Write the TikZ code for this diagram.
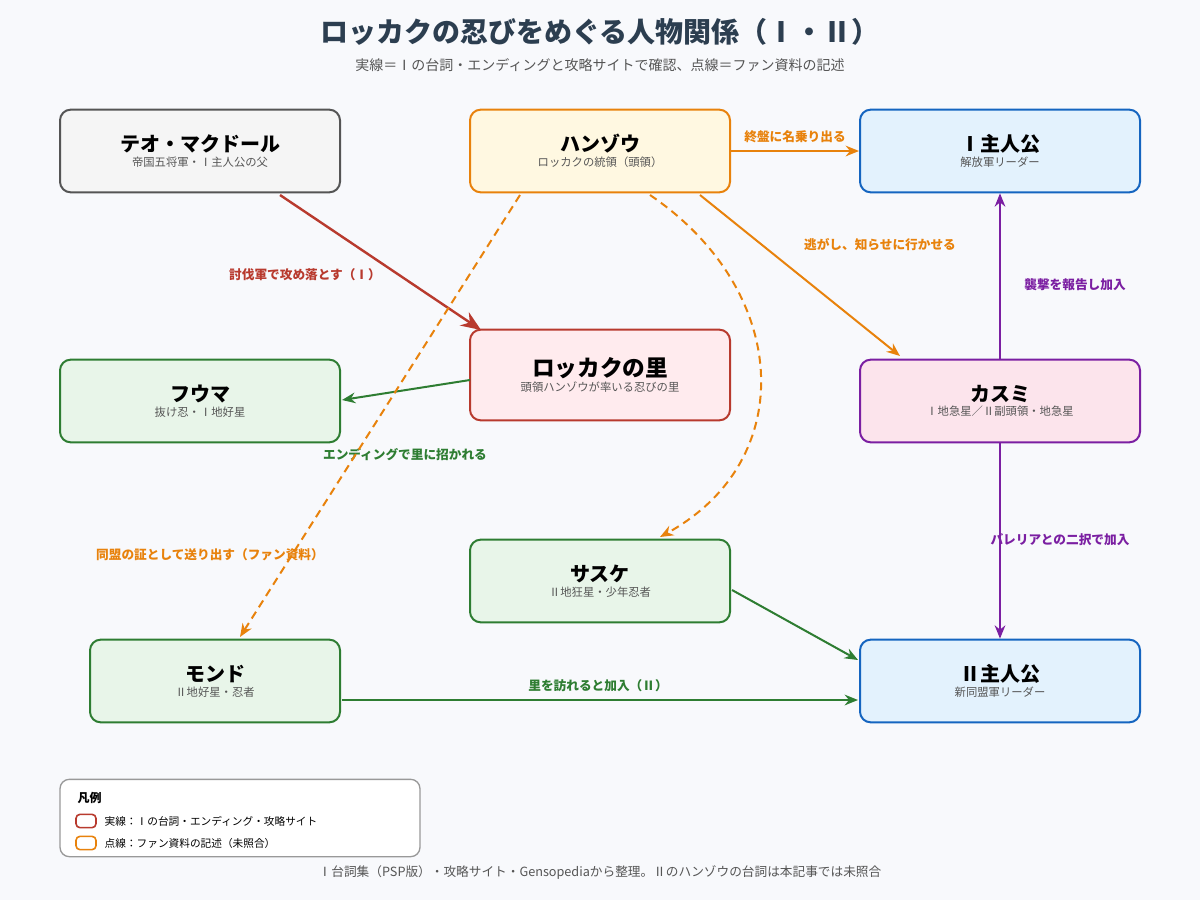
\documentclass[tikz,border=0pt]{standalone}
\usepackage{fontspec}
\setmainfont{Noto Sans CJK JP}
\usetikzlibrary{arrows.meta}
\definecolor{bg}{HTML}{F8F9FC}
\definecolor{cor}{HTML}{E8820C}
\definecolor{cre}{HTML}{B83A2E}
\definecolor{cgr}{HTML}{2E7D32}
\definecolor{cpu}{HTML}{7B1FA2}
\definecolor{cbl}{HTML}{1565C0}
\definecolor{cgy}{HTML}{555555}
\definecolor{ttl}{HTML}{2C3E50}
\definecolor{fbl}{HTML}{E3F2FD}
\definecolor{fye}{HTML}{FFF8E1}
\definecolor{fgr}{HTML}{E8F5E9}
\definecolor{fpk}{HTML}{FCE4EC}
\definecolor{fre}{HTML}{FFEBEE}
\definecolor{fgy}{HTML}{F5F5F5}
\newcommand{\mynm}{\fontsize{15}{18}\selectfont\bfseries}
\newcommand{\mysb}{\fontsize{8.5}{10}\selectfont\mdseries\color{cgy}}
\begin{document}
\begin{tikzpicture}[x=0.75pt,y=-0.75pt,
 box/.style={draw,line width=1.5pt,rounded corners=8pt,minimum width=210pt,minimum height=62pt,align=center,inner sep=0pt},
 arr/.style={line width=1.5pt,-{Stealth[length=10pt,width=8pt]}},
 lbl/.style={font=\fontsize{9.5}{11}\selectfont\bfseries}]
\useasboundingbox (0,0) rectangle (1200,900);
\fill[bg] (0,0) rectangle (1200,900);
\node[font=\fontsize{21}{25}\selectfont\bfseries,text=ttl] (title) at (600,32) {ロッカクの忍びをめぐる人物関係（Ⅰ・Ⅱ）};
\node[font=\fontsize{10.5}{12}\selectfont,text=cgy] (sub) at (600,65) {実線＝Ⅰの台詞・エンディングと攻略サイトで確認、点線＝ファン資料の記述};

\node[box,draw=cgy,fill=fgy] (teo) at (200,151) {\mynm テオ・マクドール\\[-1pt]\mysb 帝国五将軍・Ⅰ主人公の父};
\node[box,draw=cor,fill=fye,minimum width=195pt] (hanzo) at (600,151) {\mynm ハンゾウ\\[-1pt]\mysb ロッカクの統領（頭領）};
\node[box,draw=cbl,fill=fbl] (h1) at (1000,151) {\mynm Ⅰ主人公\\[-1pt]\mysb 解放軍リーダー};
\node[box,draw=cre,fill=fre,minimum width=195pt,minimum height=68pt] (sato) at (600,375) {\fontsize{17}{20}\selectfont\bfseries ロッカクの里\\[-1pt]\mysb 頭領ハンゾウが率いる忍びの里};
\node[box,draw=cgr,fill=fgr] (fuma) at (200,401) {\mynm フウマ\\[-1pt]\mysb 抜け忍・Ⅰ地好星};
\node[box,draw=cpu,fill=fpk] (kasumi) at (1000,401) {\mynm カスミ\\[-1pt]\mysb Ⅰ地急星／Ⅱ副頭領・地急星};
\node[box,draw=cgr,fill=fgr,minimum width=195pt] (sasuke) at (600,581) {\mynm サスケ\\[-1pt]\mysb Ⅱ地狂星・少年忍者};
\node[box,draw=cgr,fill=fgr,minimum width=187.5pt] (mondo) at (215,681) {\mynm モンド\\[-1pt]\mysb Ⅱ地好星・忍者};
\node[box,draw=cbl,fill=fbl] (h2) at (1000,681) {\mynm Ⅱ主人公\\[-1pt]\mysb 新同盟軍リーダー};

\draw[arr,cor] (hanzo.east) -- (h1.west) node[pos=0.5,above=2pt,lbl,text=cor] {終盤に名乗り出る};
\draw[cre,line width=1.8pt,-{Stealth[length=15pt,width=12pt]}] (280,195) -- (481,330);
\node[lbl,text=cre] (l1) at (305,275) {討伐軍で攻め落とす（Ⅰ）};
\draw[arr,cor] (700,195) -- (900,356);
\node[lbl,text=cor] (l2) at (880,245) {逃がし、知らせに行かせる};
\draw[arr,cpu] (kasumi.north) -- (h1.south);
\node[lbl,text=cpu] (l3) at (1075,285) {襲撃を報告し加入};
\draw[arr,cpu] (kasumi.south) -- (h2.north);
\node[lbl,text=cpu] (l4) at (1060,540) {バレリアとの二択で加入};
\draw[arr,cgr] (470,380) -- (342,400);
\node[lbl,text=cgr] (l5) at (405,455) {エンディングで里に招かれる};
\draw[arr,cor,dash pattern=on 6pt off 4pt] (520,195) -- (240,637);
\node[lbl,text=cor] (l6) at (210,555) {同盟の証として送り出す（ファン資料）};
\draw[arr,cor,dash pattern=on 6pt off 4pt] (650,195) .. controls (790,290) and (800,460) .. (660,537);
\draw[arr,cgr] (732,590) -- (858,660);
\draw[arr,cgr] (342,700) -- (858,700);
\node[lbl,text=cgr] (l7) at (598,686) {里を訪れると加入（Ⅱ）};

\node[draw=black!40,fill=white,rounded corners=7pt,line width=1pt,minimum width=270pt,minimum height=58pt] (leg) at (240,818) {};
\node[anchor=west,font=\fontsize{9}{11}\selectfont\bfseries] (legt) at (73,798) {凡例};
\node[draw=cre,line width=1.2pt,rounded corners=3pt,minimum width=15pt,minimum height=10pt,inner sep=0pt] (k1) at (86,821) {};
\node[anchor=west,font=\fontsize{8}{9}\selectfont] (k1t) at (100,821) {実線：Ⅰの台詞・エンディング・攻略サイト};
\node[draw=cor,line width=1.2pt,rounded corners=3pt,minimum width=15pt,minimum height=10pt,inner sep=0pt] (k2) at (86,843) {};
\node[anchor=west,font=\fontsize{8}{9}\selectfont] (k2t) at (100,843) {点線：ファン資料の記述（未照合）};
\node[font=\fontsize{9.5}{11}\selectfont,text=cgy] (foot) at (600,873) {Ⅰ台詞集（PSP版）・攻略サイト・Gensopediaから整理。Ⅱのハンゾウの台詞は本記事では未照合};
\end{tikzpicture}
\end{document}
